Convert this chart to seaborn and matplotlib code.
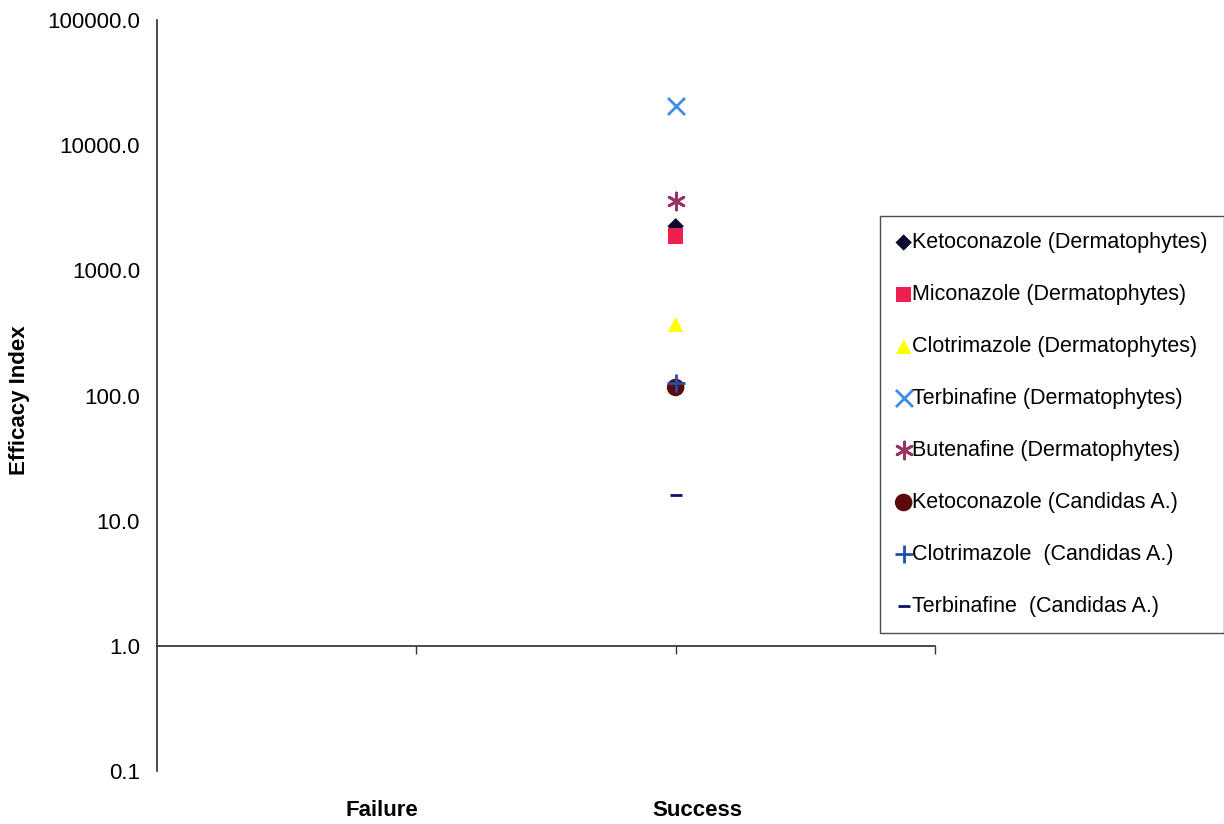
import pandas as pd
import seaborn as sns
import matplotlib.pyplot as plt
from matplotlib.ticker import FixedLocator, FormatStrFormatter, NullLocator

# data
series = ['Ketoconazole (Dermatophytes)', 'Miconazole (Dermatophytes)',
          'Clotrimazole (Dermatophytes)', 'Terbinafine (Dermatophytes)',
          'Butenafine (Dermatophytes)', 'Ketoconazole (Candidas A.)',
          'Clotrimazole  (Candidas A.)', 'Terbinafine  (Candidas A.)']
outcome = ['Success'] * 8
efficacy = [2250, 1880, 370, 20500, 3570, 116, 125, 16]
categories = ['Failure', 'Success']
y_ticks = [0.1, 1, 10, 100, 1000, 10000, 100000]

markers = ['D', 's', '^', 'x', (6, 2, 0), 'o', '+', '_']
colors = ['#0a0a30', '#ee1f4f', '#ffff00', '#3d8ee6', '#993366', '#5a0a0a', '#1f4fa8', '#10106e']
sizes = [70, 120, 120, 150, 150, 160, 150, 70]

df = pd.DataFrame({'series': series, 'outcome': outcome, 'efficacy': efficacy})
df['x'] = df['outcome'].map({c: i + 1 for i, c in enumerate(categories)})

sns.set_theme(style='white')
plt.rcParams['font.family'] = ['Liberation Sans', 'DejaVu Sans']

fig = plt.figure(figsize=(12.24, 8.24), dpi=100)
ax = fig.add_axes([0.128, 0.0643, 0.636, 0.9114])

for i, row in df.iterrows():
    filled = markers[i] not in ('x', '+', '_', (6, 2, 0))
    kw = dict(edgecolor='none') if filled else dict(linewidth=2)
    sns.scatterplot(x=[row['x']], y=[row['efficacy']], marker=markers[i], color=colors[i],
                    s=sizes[i], label=row['series'], ax=ax, zorder=3, **kw)

ax.set_yscale('log')
ax.set_ylim(0.1, 100000)
ax.set_xlim(0, 3)
ax.yaxis.set_major_locator(FixedLocator(y_ticks))
ax.yaxis.set_minor_locator(NullLocator())
ax.yaxis.set_major_formatter(FormatStrFormatter('%.1f'))
ax.set_xticks([1, 2, 3])
ax.set_xticklabels([])
ax.tick_params(axis='both', length=6, width=1, color='#333333', direction='out')
ax.tick_params(axis='y', labelsize=16, pad=6, labelcolor='black')
ax.tick_params(axis='x', bottom=True)

for s in ['top', 'right']:
    ax.spines[s].set_visible(False)
ax.spines['bottom'].set_position(('data', 1))
ax.spines['left'].set_color('#333333')
ax.spines['bottom'].set_color('#333333')

ax.set_ylabel('Efficacy Index', fontsize=16, fontweight='bold', color='black')
ax.yaxis.set_label_coords(-0.163, 0.494)
ax.set_xlabel('')
for lab, xf in zip(categories, [382, 697]):
    fig.text(xf / 1224, 1 - 810 / 824, lab, ha='center', va='center',
             fontsize=16, fontweight='bold', color='black')

leg = ax.legend(loc='upper left', bbox_to_anchor=(880 / 1224, 1 - 216 / 824),
                bbox_transform=fig.transFigure, borderaxespad=0, frameon=True,
                fancybox=False, edgecolor='#222222', fontsize=15.5,
                labelspacing=1.44, handletextpad=0.05, handlelength=0.7,
                borderpad=0.75, markerscale=1.0)
leg.get_frame().set_linewidth(1)
for t in leg.get_texts():
    t.set_color('black')

fig.savefig('out.png', dpi=100)
